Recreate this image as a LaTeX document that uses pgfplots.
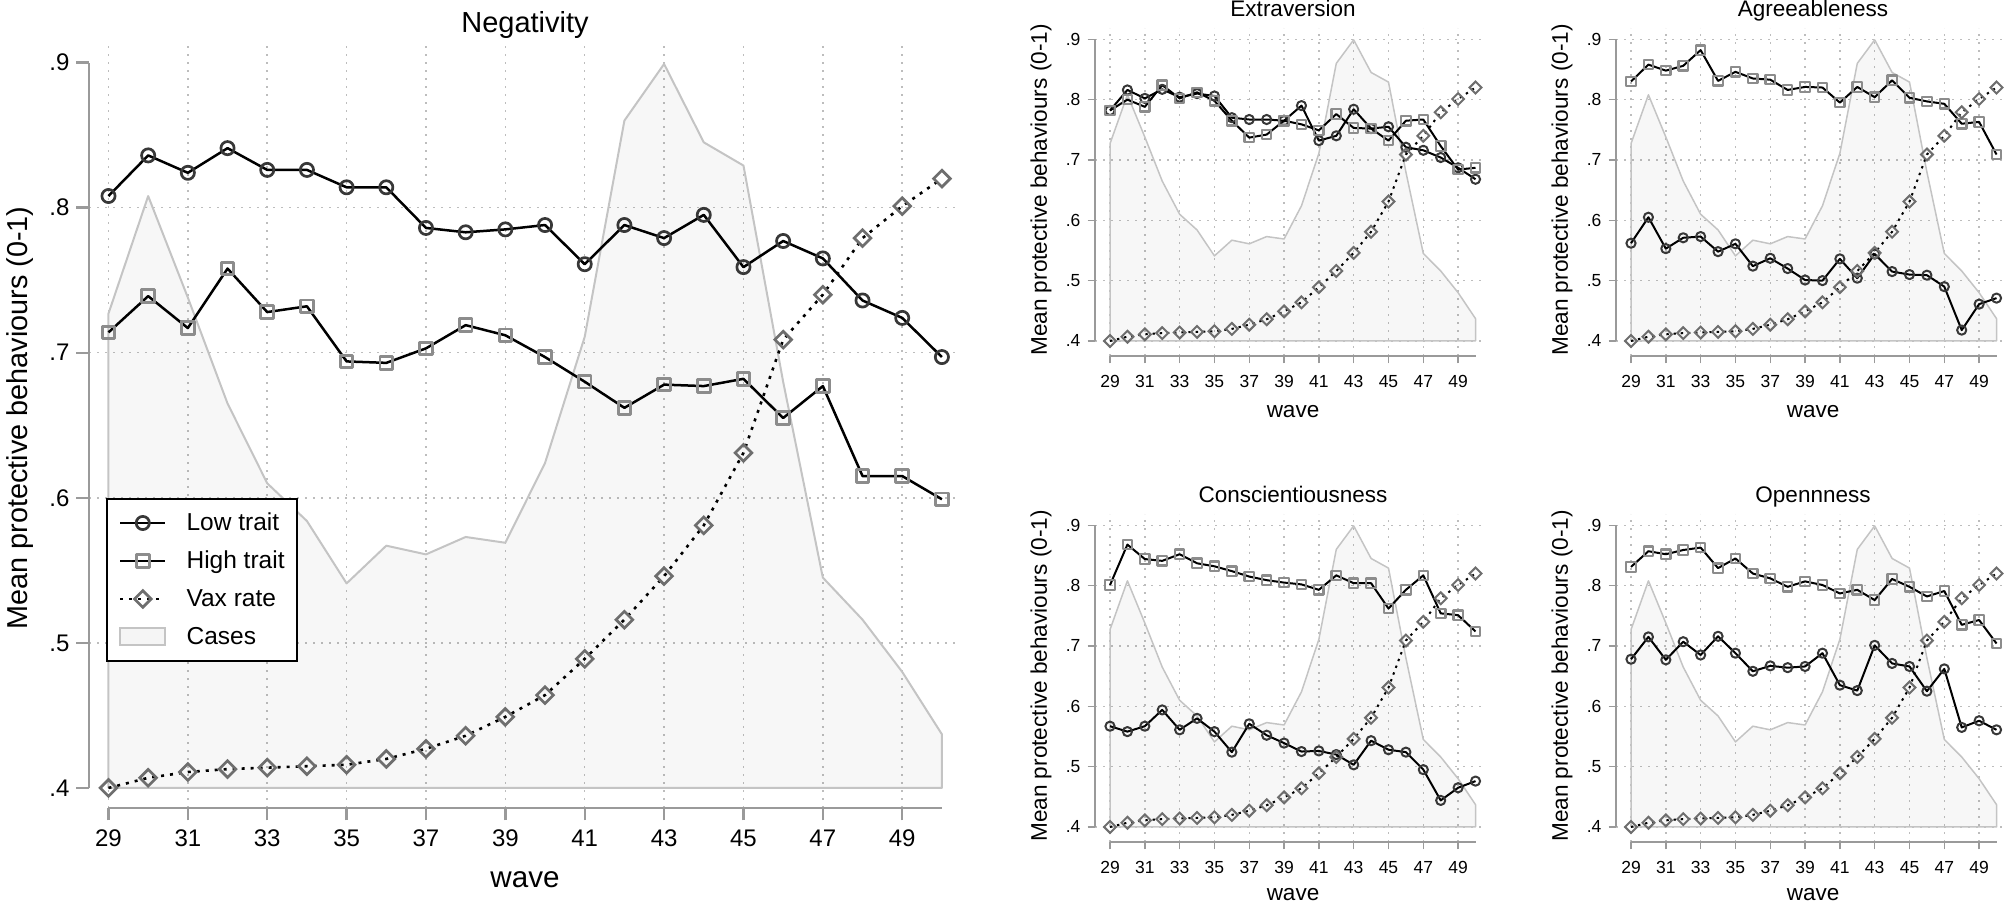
\documentclass[border=0pt]{standalone}
\usepackage{fontspec}
\setmainfont{Liberation Sans}
\usepackage{pgfplots}
\pgfplotsset{compat=1.18}
\usepackage{pgfplotstable}

\definecolor{axisgray}{HTML}{9A9A9A}
\definecolor{gridgray}{HTML}{BDBDBD}
\definecolor{casedraw}{HTML}{C4C4C4}
\definecolor{circlec}{HTML}{383838}
\definecolor{squarec}{HTML}{8C8C8C}
\definecolor{diamondc}{HTML}{6E6E6E}

\pgfplotstableread{
wave vax
29 0.400
30 0.407
31 0.411
32 0.413
33 0.414
34 0.415
35 0.416
36 0.420
37 0.427
38 0.436
39 0.449
40 0.464
41 0.489
42 0.516
43 0.546
44 0.581
45 0.631
46 0.709
47 0.740
48 0.779
49 0.801
50 0.820
}\vaxtab

\pgfplotstableread{
wave cases
29 0.400
29 0.727
30 0.808
31 0.738
32 0.665
33 0.610
34 0.584
35 0.541
36 0.567
37 0.561
38 0.573
39 0.569
40 0.624
41 0.711
42 0.860
43 0.899
44 0.845
45 0.829
46 0.680
47 0.545
48 0.516
49 0.480
50 0.437
50 0.400
}\casetab

\pgfplotstableread{
wave low high
29 0.808 0.714
30 0.836 0.739
31 0.824 0.717
32 0.841 0.758
33 0.826 0.728
34 0.826 0.732
35 0.814 0.694
36 0.814 0.693
37 0.786 0.703
38 0.783 0.719
39 0.785 0.712
40 0.788 0.697
41 0.761 0.680
42 0.788 0.662
43 0.779 0.678
44 0.795 0.677
45 0.759 0.682
46 0.777 0.655
47 0.765 0.677
48 0.736 0.615
49 0.724 0.615
50 0.697 0.599
}\negtab

\pgfplotstableread{
wave low high
29 0.782 0.782
30 0.816 0.800
31 0.802 0.788
32 0.817 0.824
33 0.804 0.802
34 0.810 0.812
35 0.806 0.798
36 0.770 0.765
37 0.767 0.737
38 0.767 0.742
39 0.765 0.765
40 0.790 0.759
41 0.732 0.749
42 0.740 0.776
43 0.784 0.753
44 0.752 0.752
45 0.755 0.732
46 0.721 0.765
47 0.716 0.767
48 0.704 0.723
49 0.687 0.684
50 0.668 0.687
}\extab

\pgfplotstableread{
wave low high
29 0.562 0.830
30 0.605 0.858
31 0.553 0.848
32 0.571 0.856
33 0.573 0.882
34 0.548 0.831
35 0.561 0.846
36 0.524 0.835
37 0.537 0.833
38 0.520 0.816
39 0.501 0.821
40 0.500 0.820
41 0.536 0.795
42 0.504 0.821
43 0.544 0.804
44 0.515 0.832
45 0.510 0.803
46 0.509 0.797
47 0.490 0.793
48 0.418 0.760
49 0.461 0.763
50 0.471 0.709
}\agtab

\pgfplotstableread{
wave low high
29 0.567 0.801
30 0.558 0.868
31 0.567 0.844
32 0.594 0.841
33 0.561 0.852
34 0.580 0.837
35 0.558 0.832
36 0.524 0.824
37 0.571 0.815
38 0.552 0.809
39 0.539 0.805
40 0.525 0.802
41 0.526 0.793
42 0.520 0.817
43 0.503 0.804
44 0.543 0.804
45 0.528 0.762
46 0.524 0.793
47 0.495 0.817
48 0.444 0.754
49 0.465 0.751
50 0.476 0.724
}\cotab

\pgfplotstableread{
wave low high
29 0.678 0.831
30 0.715 0.857
31 0.677 0.852
32 0.707 0.859
33 0.685 0.863
34 0.716 0.829
35 0.688 0.845
36 0.658 0.820
37 0.667 0.812
38 0.664 0.798
39 0.666 0.807
40 0.688 0.801
41 0.635 0.787
42 0.626 0.793
43 0.701 0.776
44 0.671 0.811
45 0.666 0.798
46 0.625 0.782
47 0.662 0.791
48 0.565 0.735
49 0.576 0.743
50 0.561 0.704
}\optab

\pgfplotsset{
  stataaxis/.style={
    scale only axis, clip=false,
    axis line style={draw=none},
    xtick pos=left, ytick pos=left, tick align=outside,
    xtick={29,31,33,35,37,39,41,43,45,47,49},
    xticklabels={29,31,33,35,37,39,41,43,45,47,49},
    ytick={0.4,0.5,0.6,0.7,0.8,0.9},
    yticklabels={.4,.5,.6,.7,.8,.9},
    xmajorgrids,
    grid style={gridgray, line width=0.75pt, dash pattern=on 0.75pt off 3.25pt},
    legend image code/.code={\draw[mark repeat=2,mark phase=2] plot coordinates {(0pt,0pt) (11.25pt,0pt) (22.5pt,0pt)};},
  },
  casest/.style={forget plot, draw=casedraw, fill=black, fill opacity=0.032, line join=round},
  lowst/.style={draw=black, line width=1.25pt, line join=round, mark=o, mark size=3.3pt, mark options={draw=circlec, line width=1.35pt, solid}},
  highst/.style={draw=black, line width=1.25pt, line join=round, mark=square, mark size=3.15pt, mark options={draw=squarec, line width=1.45pt, solid}},
  vaxst/.style={draw=black, line width=1.3pt, dash pattern=on 1.5pt off 3pt, mark=square, mark size=2.95pt, mark options={draw=diamondc, line width=1.35pt, solid, rotate=45}},
  lowsm/.style={draw=black, line width=1pt, line join=round, mark=o, mark size=2.3pt, mark options={draw=circlec, line width=1pt, solid}},
  highsm/.style={draw=black, line width=1pt, line join=round, mark=square, mark size=2.35pt, mark options={draw=squarec, line width=1.1pt, solid}},
  vaxsm/.style={draw=black, line width=1pt, dash pattern=on 1.2pt off 2.4pt, mark=square, mark size=2.1pt, mark options={draw=diamondc, line width=1pt, solid, rotate=45}},
  smallax/.style={stataaxis, anchor=south west, width=196pt, height=164pt,
    xmin=28.138, xmax=50.66, ymin=0.3751, ymax=0.9187,
    ymajorgrids, major tick length=3.75pt,
    tick style={axisgray, line width=0.75pt},
    ticklabel style={font=\fontsize{8.75}{10}\selectfont},
    xticklabel style={yshift=-2.5pt}},
}

\newcommand{\smallaxislines}{%
  \draw[axisgray, line width=0.75pt] (28.138,0.4) -- (28.138,0.9);
  \draw[axisgray, line width=0.75pt] (29,0.3751) -- (50,0.3751);}

\begin{document}
\begin{tikzpicture}[x=0.5pt,y=0.5pt]
\useasboundingbox (0,0) rectangle (2008,903);

% ---------------- main panel ----------------
\begin{axis}[stataaxis, at={(44.5pt,47.5pt)}, anchor=south west,
  width=433pt, height=381.5pt,
  xmin=28.509, xmax=50.33, ymin=0.3862, ymax=0.9121,
  major tick length=6.25pt,
  tick style={axisgray, line width=1.2pt},
  ticklabel style={font=\fontsize{12}{14}\selectfont},
  xticklabel style={yshift=-1pt},
  extra y ticks={0.5,0.6,0.7,0.8}, extra y tick labels={},
  extra y tick style={grid=major, major tick length=0pt},
  legend style={at={(0.0196,0.4063)}, anchor=north west, draw=black, line width=1pt,
    font=\fontsize{12.25}{14}\selectfont, inner xsep=6pt, inner ysep=6pt,
    row sep=7pt, column sep=10pt,
    nodes={inner sep=0pt, text height=10pt, text depth=2pt}},
  legend cell align=left]
\addplot[casest, line width=1pt] table[x=wave,y=cases] {\casetab} -- cycle;
\addplot[lowst] table[x=wave,y=low] {\negtab};
\addlegendentry{Low trait}
\addplot[highst] table[x=wave,y=high] {\negtab};
\addlegendentry{High trait}
\addplot[vaxst] table[x=wave,y=vax] {\vaxtab};
\addlegendentry{Vax rate}
\addlegendimage{legend image code/.code={\draw[draw=casedraw, line width=1pt, fill=black!4] (0pt,-4.25pt) rectangle (22.5pt,4.25pt);}}
\addlegendentry{Cases}
\draw[axisgray, line width=1.2pt] (28.509,0.4) -- (28.509,0.9);
\draw[axisgray, line width=1.2pt] (29,0.3862) -- (50,0.3862);
\end{axis}

% ---------------- Extraversion ----------------
\begin{axis}[smallax, at={(547.5pt,273.5pt)}]
\addplot[casest, line width=0.75pt] table[x=wave,y=cases] {\casetab} -- cycle;
\addplot[lowsm] table[x=wave,y=low] {\extab};
\addplot[highsm] table[x=wave,y=high] {\extab};
\addplot[vaxsm] table[x=wave,y=vax] {\vaxtab};
\smallaxislines
\end{axis}

% ---------------- Agreeableness ----------------
\begin{axis}[smallax, at={(808pt,273.5pt)}]
\addplot[casest, line width=0.75pt] table[x=wave,y=cases] {\casetab} -- cycle;
\addplot[lowsm] table[x=wave,y=low] {\agtab};
\addplot[highsm] table[x=wave,y=high] {\agtab};
\addplot[vaxsm] table[x=wave,y=vax] {\vaxtab};
\smallaxislines
\end{axis}

% ---------------- Conscientiousness ----------------
\begin{axis}[smallax, at={(547.5pt,30.5pt)}]
\addplot[casest, line width=0.75pt] table[x=wave,y=cases] {\casetab} -- cycle;
\addplot[lowsm] table[x=wave,y=low] {\cotab};
\addplot[highsm] table[x=wave,y=high] {\cotab};
\addplot[vaxsm] table[x=wave,y=vax] {\vaxtab};
\smallaxislines
\end{axis}

% ---------------- Openness ----------------
\begin{axis}[smallax, at={(808pt,30.5pt)}]
\addplot[casest, line width=0.75pt] table[x=wave,y=cases] {\casetab} -- cycle;
\addplot[lowsm] table[x=wave,y=low] {\optab};
\addplot[highsm] table[x=wave,y=high] {\optab};
\addplot[vaxsm] table[x=wave,y=vax] {\vaxtab};
\smallaxislines
\end{axis}

% ---------------- titles and axis titles ----------------
\node[anchor=base, font=\fontsize{14.5}{17}\selectfont] at (525,870) {Negativity};
\node[anchor=base, font=\fontsize{14.8}{17}\selectfont] at (525,15) {wave};
\node[rotate=90, font=\fontsize{14.4}{17}\selectfont] at (20,485) {Mean protective behaviours (0-1)};

\node[anchor=base, font=\fontsize{11.25}{13}\selectfont] at (1293,886) {Extraversion};
\node[anchor=base, font=\fontsize{11.25}{13}\selectfont] at (1813,886) {Agreeableness};
\node[anchor=base, font=\fontsize{11.25}{13}\selectfont] at (1293,400) {Conscientiousness};
\node[anchor=base, font=\fontsize{11.25}{13}\selectfont] at (1813,400) {Opennness};

\node[anchor=base, font=\fontsize{11.25}{13}\selectfont] at (1293,485) {wave};
\node[anchor=base, font=\fontsize{11.25}{13}\selectfont] at (1813,485) {wave};
\node[anchor=base, font=\fontsize{11.25}{13}\selectfont] at (1293,2) {wave};
\node[anchor=base, font=\fontsize{11.25}{13}\selectfont] at (1813,2) {wave};

\node[rotate=90, font=\fontsize{11.3}{13}\selectfont] at (1041,713) {Mean protective behaviours (0-1)};
\node[rotate=90, font=\fontsize{11.3}{13}\selectfont] at (1562,713) {Mean protective behaviours (0-1)};
\node[rotate=90, font=\fontsize{11.3}{13}\selectfont] at (1041,227) {Mean protective behaviours (0-1)};
\node[rotate=90, font=\fontsize{11.3}{13}\selectfont] at (1562,227) {Mean protective behaviours (0-1)};
\end{tikzpicture}
\end{document}
